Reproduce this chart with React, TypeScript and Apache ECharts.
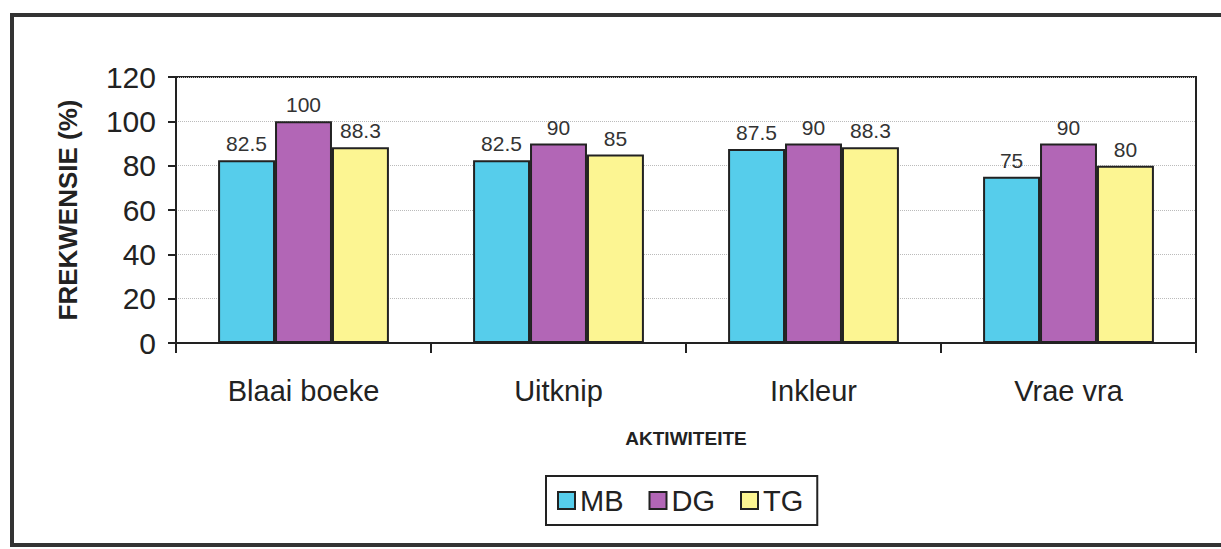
import React, { useEffect, useRef } from "react";
import * as echarts from "echarts";

const categories = ["Blaai boeke", "Uitknip", "Inkleur", "Vrae vra"];
const seriesNames = ["MB", "DG", "TG"];
const mbValues = [82.5, 82.5, 87.5, 75];
const dgValues = [100, 90, 90, 90];
const tgValues = [88.3, 85, 88.3, 80];
const colors = ["#56cdeb", "#b266b6", "#fcf592"];
const yAxisTitle = "FREKWENSIE (%)";
const xAxisTitle = "AKTIWITEITE";

export default function App() {
  const ref = useRef<HTMLDivElement>(null);
  useEffect(() => {
    if (!ref.current) return;
    const chart = echarts.init(ref.current, undefined, { renderer: "svg" });
    const font = "Liberation Sans, Arial, sans-serif";
    const values = [mbValues, dgValues, tgValues];
    chart.setOption({
      animation: false,
      backgroundColor: "#ffffff",
      textStyle: { fontFamily: font },
      graphic: [
        {
          type: "rect",
          shape: { x: 12, y: 15, width: 1240, height: 530 },
          style: { fill: "none", stroke: "#333", lineWidth: 4 },
          silent: true,
        },
      ],
      grid: {
        left: 176,
        right: 25,
        top: 77,
        bottom: 206,
        show: true,
        borderColor: "#222",
        borderWidth: 2,
        backgroundColor: "transparent",
      },
      legend: {
        data: seriesNames,
        left: 546,
        top: 476,
        padding: [10, 14, 10, 11],
        itemGap: 25,
        itemWidth: 17,
        itemHeight: 17,
        icon: "rect",
        borderColor: "#222",
        borderWidth: 2,
        textStyle: { fontSize: 29, color: "#222", fontFamily: font },
      },
      xAxis: {
        type: "category",
        data: categories,
        name: xAxisTitle,
        nameLocation: "middle",
        nameGap: 86,
        nameTextStyle: { fontSize: 19, fontWeight: "bold", color: "#222", fontFamily: font },
        axisLine: { show: true, lineStyle: { color: "#222", width: 2 } },
        axisTick: { show: true, length: 10, lineStyle: { color: "#222", width: 2 } },
        axisLabel: { fontSize: 29, color: "#222", margin: 33, fontFamily: font },
        splitLine: { show: false },
      },
      yAxis: {
        type: "value",
        min: 0,
        max: 120,
        interval: 20,
        name: yAxisTitle,
        nameLocation: "middle",
        nameGap: 95,
        nameTextStyle: { fontSize: 26, fontWeight: "bold", color: "#222", fontFamily: font },
        axisLine: { show: true, lineStyle: { color: "#222", width: 2 } },
        axisTick: { show: true, length: 8, lineStyle: { color: "#222", width: 2 } },
        axisLabel: { fontSize: 30, color: "#222", margin: 20, fontFamily: font },
        splitLine: { show: true, lineStyle: { color: "#bbbbbb", type: "dotted", width: 1 } },
      },
      series: seriesNames.map((name, i) => ({
        name,
        type: "bar",
        data: values[i],
        barGap: "0%",
        barCategoryGap: "33%",
        itemStyle: { color: colors[i], borderColor: "#222", borderWidth: 2 },
        label: {
          show: true,
          position: "top",
          distance: 6,
          fontSize: 21,
          color: "#333",
          fontFamily: font,
        },
      })),
    });
    return () => chart.dispose();
  }, []);
  return (
    <div
      ref={ref}
      style={{ position: "fixed", left: 0, top: 0, width: 1221, height: 549 }}
    />
  );
}
